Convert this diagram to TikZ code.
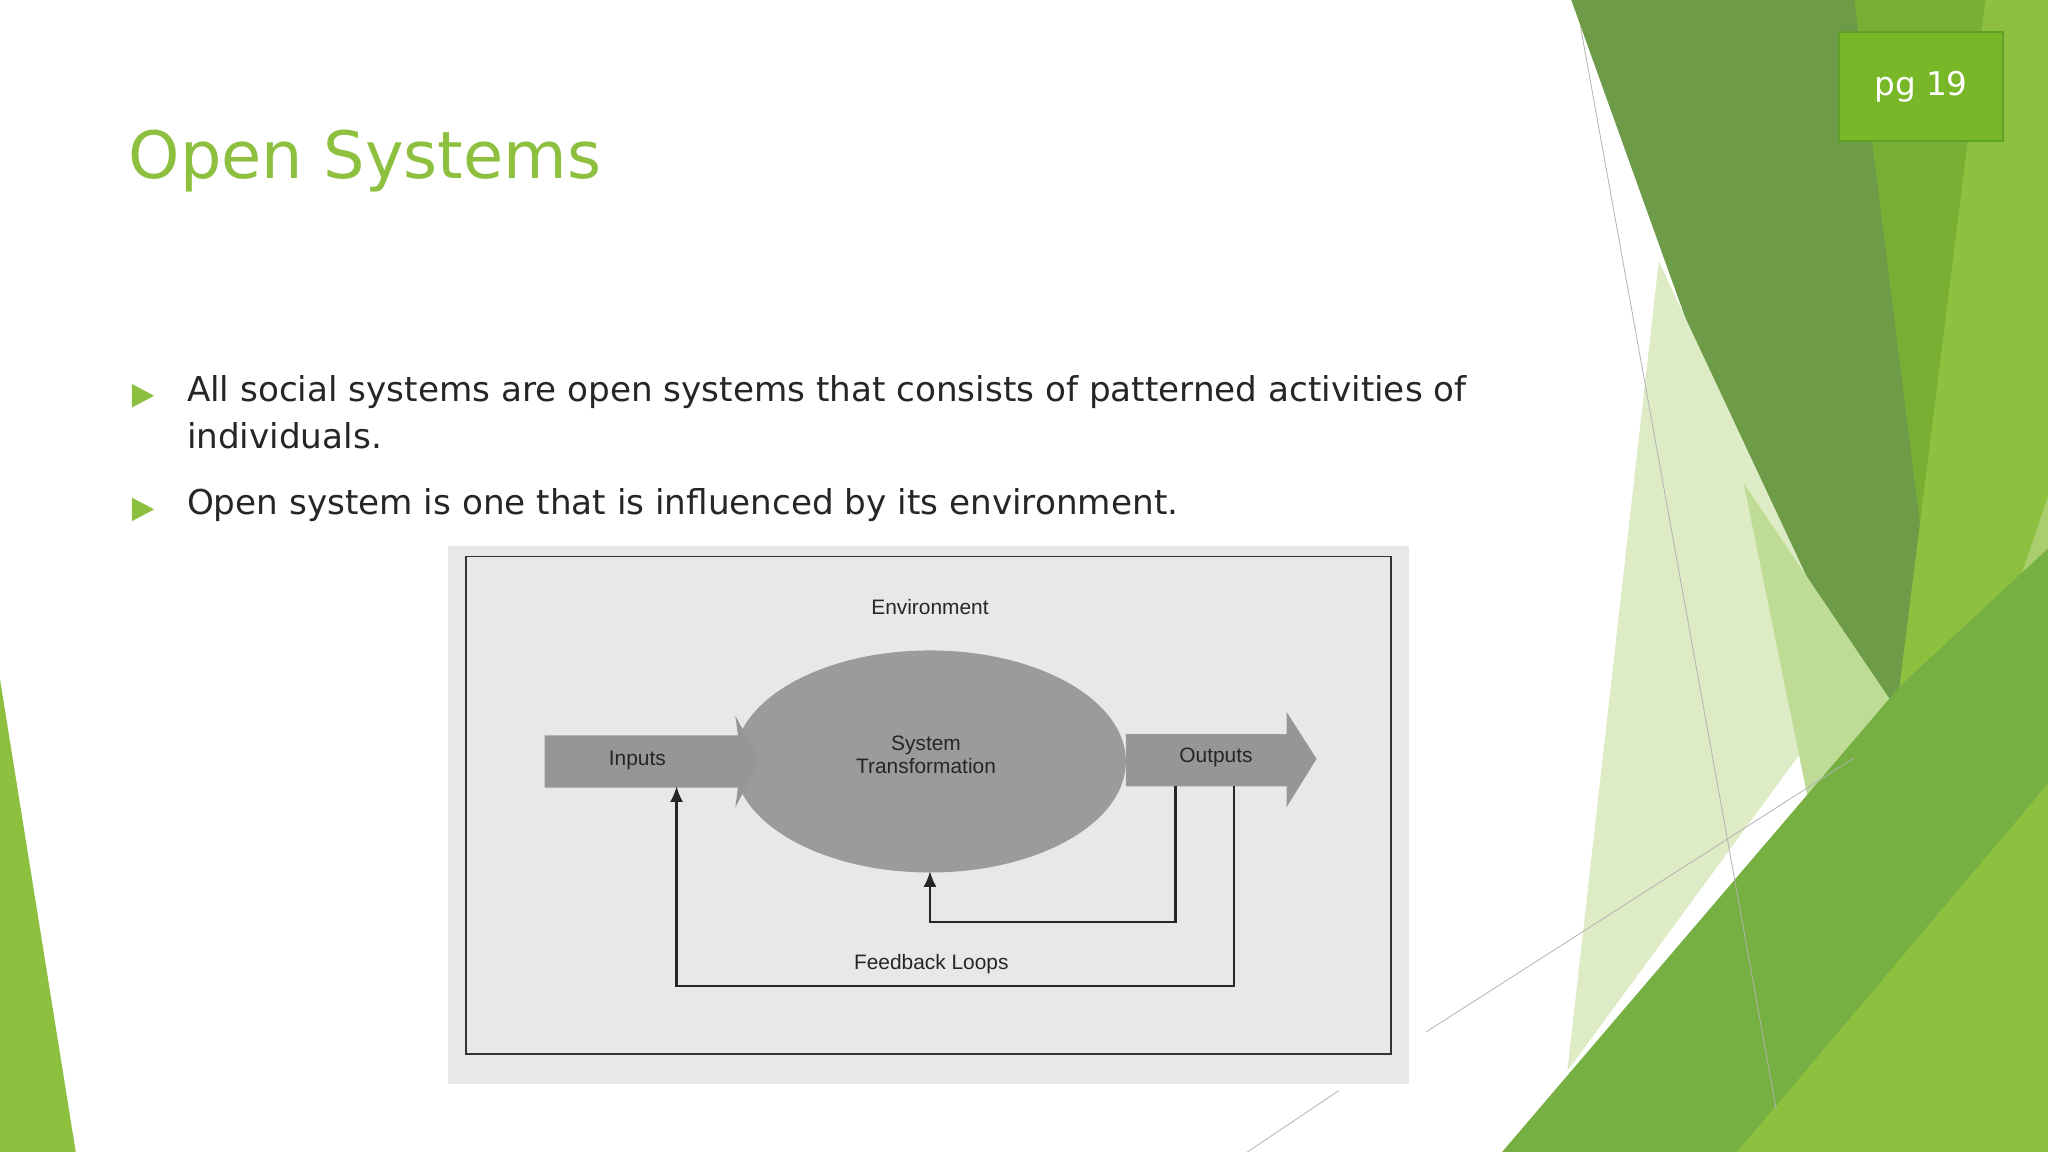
\documentclass[tikz,border=0pt]{standalone}
\usepackage{fontspec}
\setmainfont{DejaVu Sans}
\newfontfamily\arialf{Liberation Sans}
\usetikzlibrary{shapes.geometric,arrows.meta}
\begin{document}
\begin{tikzpicture}[x=1pt,y=-1pt,
  lbl/.style={font=\fontsize{16}{17}\selectfont\arialf, text=black!85, align=center},
  fb/.style={line width=1.8pt, draw=black!85}]
\useasboundingbox (0,0) rectangle (1568,882);
\fill[white] (0,0) rectangle (1568,882);
% right decoration
\fill[color={rgb,255:red,141;green,192;blue,63}] (1380,0) -- (1568,0) -- (1568,882) -- (1480,882) -- cycle;
\fill[color={rgb,255:red,110;green,155;blue,72}] (1203,0) -- (1420,0) -- (1470,400) -- (1438,655) -- cycle;
\fill[color={rgb,255:red,120;green,175;blue,50}] (1420,0) -- (1520,0) -- (1470,400) -- cycle;
\fill[color={rgb,255:red,222;green,236;blue,198}] (1270,200) -- (1420,520) -- (1200,820) -- cycle;
\fill[color={rgb,255:red,190;green,220;blue,150}] (1335,370) -- (1450,540) -- (1390,640) -- cycle;
\fill[color={rgb,255:red,170;green,205;blue,110}] (1568,380) -- (1568,620) -- (1500,580) -- cycle;
\fill[color={rgb,255:red,118;green,176;blue,67}] (1150,882) -- (1455,525) -- (1568,420) -- (1568,882) -- cycle;
\fill[color={rgb,255:red,141;green,192;blue,63}] (1330,882) -- (1568,600) -- (1568,882) -- cycle;
\draw[gray!60, line width=0.6pt] (1210,20) -- (1360,850);
\draw[gray!60, line width=0.6pt] (1092,790) -- (1420,580);
\draw[gray!60, line width=0.6pt] (955,882) -- (1025,835);
% left triangle
\fill[color={rgb,255:red,141;green,192;blue,63}] (0,520) -- (58,882) -- (0,882) -- cycle;
% page box
\node[draw={rgb,255:red,95;green,160;blue,40}, line width=1.5pt, fill={rgb,255:red,120;green,184;blue,40},
  minimum width=126pt, minimum height=83pt, text=white, font=\fontsize{25}{30}\selectfont, anchor=north west]
  (pg) at (1407,24) {pg 19};
% title
\node[anchor=west, text={rgb,255:red,141;green,192;blue,63}, font=\fontsize{50}{60}\selectfont] (title) at (95,123) {Open Systems};
% bullets
\fill[color={rgb,255:red,141;green,192;blue,63}] (101,294) -- (118,303) -- (101,312) -- cycle;
\fill[color={rgb,255:red,141;green,192;blue,63}] (101,381) -- (118,390) -- (101,399) -- cycle;
\node[anchor=north west, text=black!85, font=\fontsize{26.2}{36}\selectfont, align=left, inner sep=0] (b1) at (143,287)
  {All social systems are open systems that consists of patterned activities of\\individuals.};
\node[anchor=north west, text=black!85, font=\fontsize{26.2}{36}\selectfont, align=left, inner sep=0] (b2) at (143,374)
  {Open system is one that is influenced by its environment.};
% diagram
\fill[color={rgb,255:red,232;green,232;blue,232}] (343,418) rectangle (1079,830);
\draw[black!80, line width=1.3pt] (357,426) rectangle (1065,807);
\node[ellipse, fill={rgb,255:red,155;green,155;blue,155}, minimum width=300pt, minimum height=170pt, inner sep=0] (ell) at (712,583) {};
\fill[color={rgb,255:red,150;green,150;blue,150}] (417,563) -- (565,563) -- (563,548) -- (582,583) -- (563,618) -- (565,603) -- (417,603) -- cycle;
\fill[color={rgb,255:red,150;green,150;blue,150}] (862,562) -- (985,562) -- (985,545) -- (1008,581) -- (985,618) -- (985,602) -- (862,602) -- cycle;
\node[lbl] (env) at (712,465) {Environment};
\node[lbl] (in) at (488,582) {Inputs};
\node[lbl, font=\fontsize{16}{18}\selectfont\arialf] (sys) at (709,578) {System\\Transformation};
\node[lbl] (out) at (931,580) {Outputs};
\node[lbl] (fbl) at (713,738) {Feedback Loops};
\coordinate (o1) at (900,602);
\coordinate (o2) at (945,602);
\coordinate (i1) at (518,602);
\coordinate (e1) at (712,667);
\draw[fb,-{Latex[length=12pt,width=10pt]}] (o1) -- (900,706) -- (712,706) -- (e1);
\draw[fb,-{Latex[length=12pt,width=10pt]}] (o2) -- (945,755) -- (518,755) -- (i1);
\end{tikzpicture}
\end{document}
